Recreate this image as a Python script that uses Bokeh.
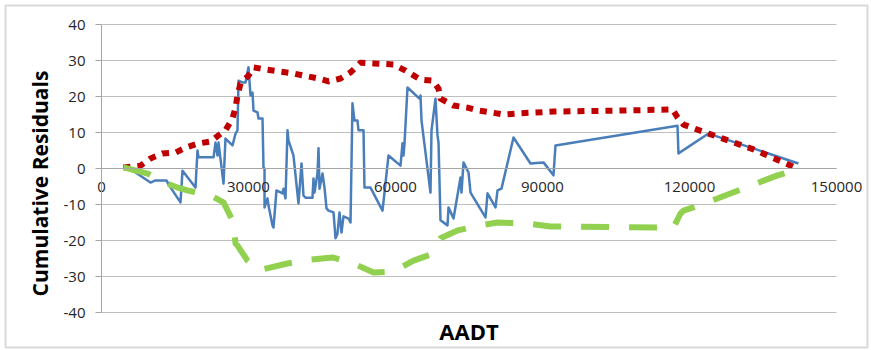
import math
from bokeh.plotting import figure
from bokeh.models import Range1d, FixedTicker, Label, BoxAnnotation
from bokeh.embed import file_html
from bokeh.resources import INLINE

# ---- data ----
aadt = [4490, 6940, 10000, 11020, 13265, 13670, 16120, 16530, 19180, 19590,
        19800, 22860, 23265, 23670, 23880, 24900, 25300, 26730, 27350, 27755,
        27960, 28780, 29390, 30000, 30410, 30820, 31020, 31840, 32040, 32860,
        33060, 33270, 33270, 33880, 34080, 34900, 35100, 35710, 36940, 37140,
        37550, 37960, 38160, 39180, 40200, 40820, 41220, 41630, 43060, 43265,
        43470, 44080, 44290, 44490, 45100, 45510, 45920, 46330, 47350, 47760,
        48160, 48570, 48980, 49390, 50410, 50820, 51220, 51630, 52240, 52450,
        53470, 53670, 54900, 57350, 58570, 61020, 61430, 61630, 61840, 62450,
        64900, 65100, 65310, 67140, 67350, 68160, 68570, 68780, 69180, 70610,
        70820, 71840, 73270, 73470, 73880, 74900, 75310, 78370, 78780, 80410,
        80820, 81630, 84080, 87550, 90200, 92240, 92650, 117550, 117750, 123880,
        142240]
cure = [0.3, -1.1, -3.9, -3.3, -3.3, -4.4, -9.4, -0.6, -5.3, 5.0,
        3.1, 3.1, 7.2, 3.6, 7.2, -4.2, 8.3, 6.4, 9.7, 10.6,
        24.4, 23.9, 23.9, 28.1, 20.3, 21.1, 16.1, 15.6, 13.9, 13.9,
        0.3, 0.0, -10.8, -8.3, -10.3, -15.8, -16.4, -6.1, -6.9, -5.6,
        -8.3, 10.6, 7.8, 3.6, -9.7, 1.4, -7.5, -8.1, -8.1, -2.8,
        -6.7, -1.4, 5.6, -5.6, -1.4, -5.3, -11.1, -11.7, -12.2, -19.4,
        -18.1, -12.2, -17.8, -13.3, -13.9, -15.0, 18.1, 13.3, 13.3, 10.6,
        10.6, -5.3, -5.3, -11.7, 3.6, 0.8, 7.0, 3.6, 7.0, 22.5,
        19.4, 20.3, 13.3, -6.7, 10.6, 19.4, 9.2, 7.2, -14.4, -15.8,
        -10.8, -13.9, -2.5, -6.7, 1.7, -1.1, -6.7, -13.6, -6.9, -10.8,
        -6.1, -5.6, 8.6, 1.4, 1.7, -1.9, 6.4, 11.9, 4.2, 9.7,
        1.4]

upper_x = [4490, 7960, 10000, 12450, 15100, 17140, 19590, 22245, 23880, 25300,
           26730, 27350, 27755, 28370, 30000, 31020, 33470, 36530, 39180, 42040,
           44290, 46330, 48780, 50820, 52860, 55510, 59590, 62040, 65100, 67550,
           68780, 69180, 71840, 74690, 76940, 79390, 82040, 84900, 92240, 105920,
           116530, 117550, 118780, 123880, 133060, 142040]
upper_y = [0.3, 0.8, 2.8, 4.2, 4.4, 5.8, 6.9, 7.5, 9.2, 10.6,
           13.9, 16.9, 20.3, 23.6, 25.8, 28.1, 27.5, 26.9, 26.4, 25.6,
           25.0, 24.2, 25.0, 26.7, 29.4, 29.2, 28.9, 27.2, 24.7, 24.4,
           22.2, 19.4, 17.5, 16.9, 16.1, 15.6, 15.0, 15.3, 15.8, 16.1,
           16.4, 14.2, 12.2, 9.7, 5.3, 0.0]

lower_x = [4490, 9390, 13470, 15510, 17550, 22245, 24900, 26940, 27350, 27755,
           29800, 32040, 37960, 42650, 47140, 51430, 55510, 59590, 63670, 67140,
           69180, 72650, 77350, 80820, 86940, 91630, 116730, 118160, 118780, 123670,
           137960, 142650]
lower_y = [0.3, -1.4, -4.2, -5.3, -6.1, -7.5, -9.4, -15.0, -20.8, -21.4,
           -25.6, -28.3, -26.4, -25.3, -24.7, -26.4, -28.9, -28.6, -25.6, -23.9,
           -19.4, -17.2, -15.8, -15.0, -15.3, -16.1, -16.4, -12.5, -11.7, -9.4,
           -1.9, 0.0]

y_ticks = [-40, -30, -20, -10, 0, 10, 20, 30, 40]
x_ticks = [0, 30000, 60000, 90000, 120000, 150000]
x_title = "AADT"
y_title = "Cumulative Residuals"

FONT = "Open Sans"
GRID = "#BFBFBF"
AXIS = "#A6A6A6"
TXT = "#262626"

X_MIN, X_MAX = x_ticks[0], x_ticks[-1]
Y_MIN, Y_MAX = y_ticks[0], y_ticks[-1]

# Frame covers the whole canvas; axes sit at fixed data locations
W, H = 871, 350
PLOT_L, PLOT_R, PLOT_T, PLOT_B = 101, 836, 24, 312
xs = (X_MAX - X_MIN) / (PLOT_R - PLOT_L)
ys = (Y_MAX - Y_MIN) / (PLOT_B - PLOT_T)
x_range = Range1d(X_MIN - PLOT_L * xs, X_MAX + (W - PLOT_R) * xs)
y_range = Range1d(Y_MIN - (H - PLOT_B) * ys, Y_MAX + PLOT_T * ys)

p = figure(width=W, height=H, output_backend="svg", toolbar_location=None,
           x_range=x_range, y_range=y_range,
           min_border_left=0, min_border_right=0, min_border_top=0,
           min_border_bottom=0)
p.outline_line_color = None
p.background_fill_color = "white"
p.border_fill_color = "white"

# chart-area frame
p.add_layout(BoxAnnotation(left=5, right=W - 4, top=5, bottom=H - 3,
                           left_units="canvas", right_units="canvas",
                           top_units="canvas", bottom_units="canvas",
                           fill_alpha=0, line_color="#D9D9D9", line_width=2,
                           line_alpha=1, editable=False))

# grid (horizontal lines only, limited to the plot area)
p.xgrid.grid_line_color = None
yg = p.ygrid[0]
yg.ticker = FixedTicker(ticks=y_ticks)
if "cross_bounds" in yg.properties():
    yg.grid_line_color = GRID
    yg.bounds = (Y_MIN, Y_MAX)
    yg.cross_bounds = (X_MIN, X_MAX)
else:
    yg.grid_line_color = None
    p.segment(x0=[X_MIN] * len(y_ticks), x1=[X_MAX] * len(y_ticks),
              y0=y_ticks, y1=y_ticks, line_color=GRID, line_width=1)

# y axis at x = 0
ya = p.yaxis[0]
ya.fixed_location = X_MIN
ya.bounds = (Y_MIN, Y_MAX)
ya.ticker = FixedTicker(ticks=y_ticks)
ya.major_label_overrides = {t: str(t) for t in y_ticks}
ya.axis_line_color = AXIS
ya.major_tick_line_color = AXIS
ya.major_tick_in = 0
ya.major_tick_out = 6
ya.minor_tick_line_color = None
ya.major_label_standoff = 10
ya.major_label_text_font = FONT
ya.major_label_text_font_size = "15px"
ya.major_label_text_color = TXT

# x axis crossing at y = 0
xa = p.xaxis[0]
xa.fixed_location = 0
xa.bounds = (X_MIN, X_MAX)
xa.ticker = FixedTicker(ticks=x_ticks)
xa.major_label_overrides = {t: str(t) for t in x_ticks}
xa.axis_line_color = AXIS
xa.major_tick_line_color = None
xa.minor_tick_line_color = None
xa.major_tick_in = 0
xa.major_tick_out = 0
xa.major_label_standoff = 13
xa.major_label_text_font = FONT
xa.major_label_text_font_size = "15px"
xa.major_label_text_color = TXT

# series
p.line(aadt, cure, line_color="#4A7EBB", line_width=2.5, line_join="round")
p.line(upper_x, upper_y, line_color="#C00000", line_width=6,
       line_dash="7 7", line_cap="butt", line_join="round")
p.line(lower_x, lower_y, line_color="#92D050", line_width=6,
       line_dash="28 20", line_cap="butt", line_join="round")

# axis titles
p.add_layout(Label(x=(X_MIN + X_MAX) / 2, y=Y_MIN - 18 * ys, text=x_title,
                   text_align="center", text_baseline="middle",
                   text_font=FONT, text_font_style="bold",
                   text_font_size="22px", text_color="black"))
p.add_layout(Label(x=X_MIN - 62 * xs, y=-15 * ys, text=y_title,
                   angle=math.pi / 2, text_align="center",
                   text_baseline="middle",
                   text_font=FONT, text_font_style="bold",
                   text_font_size="21px", text_color="black"))

open("out.html", "w").write(file_html(p, INLINE))
